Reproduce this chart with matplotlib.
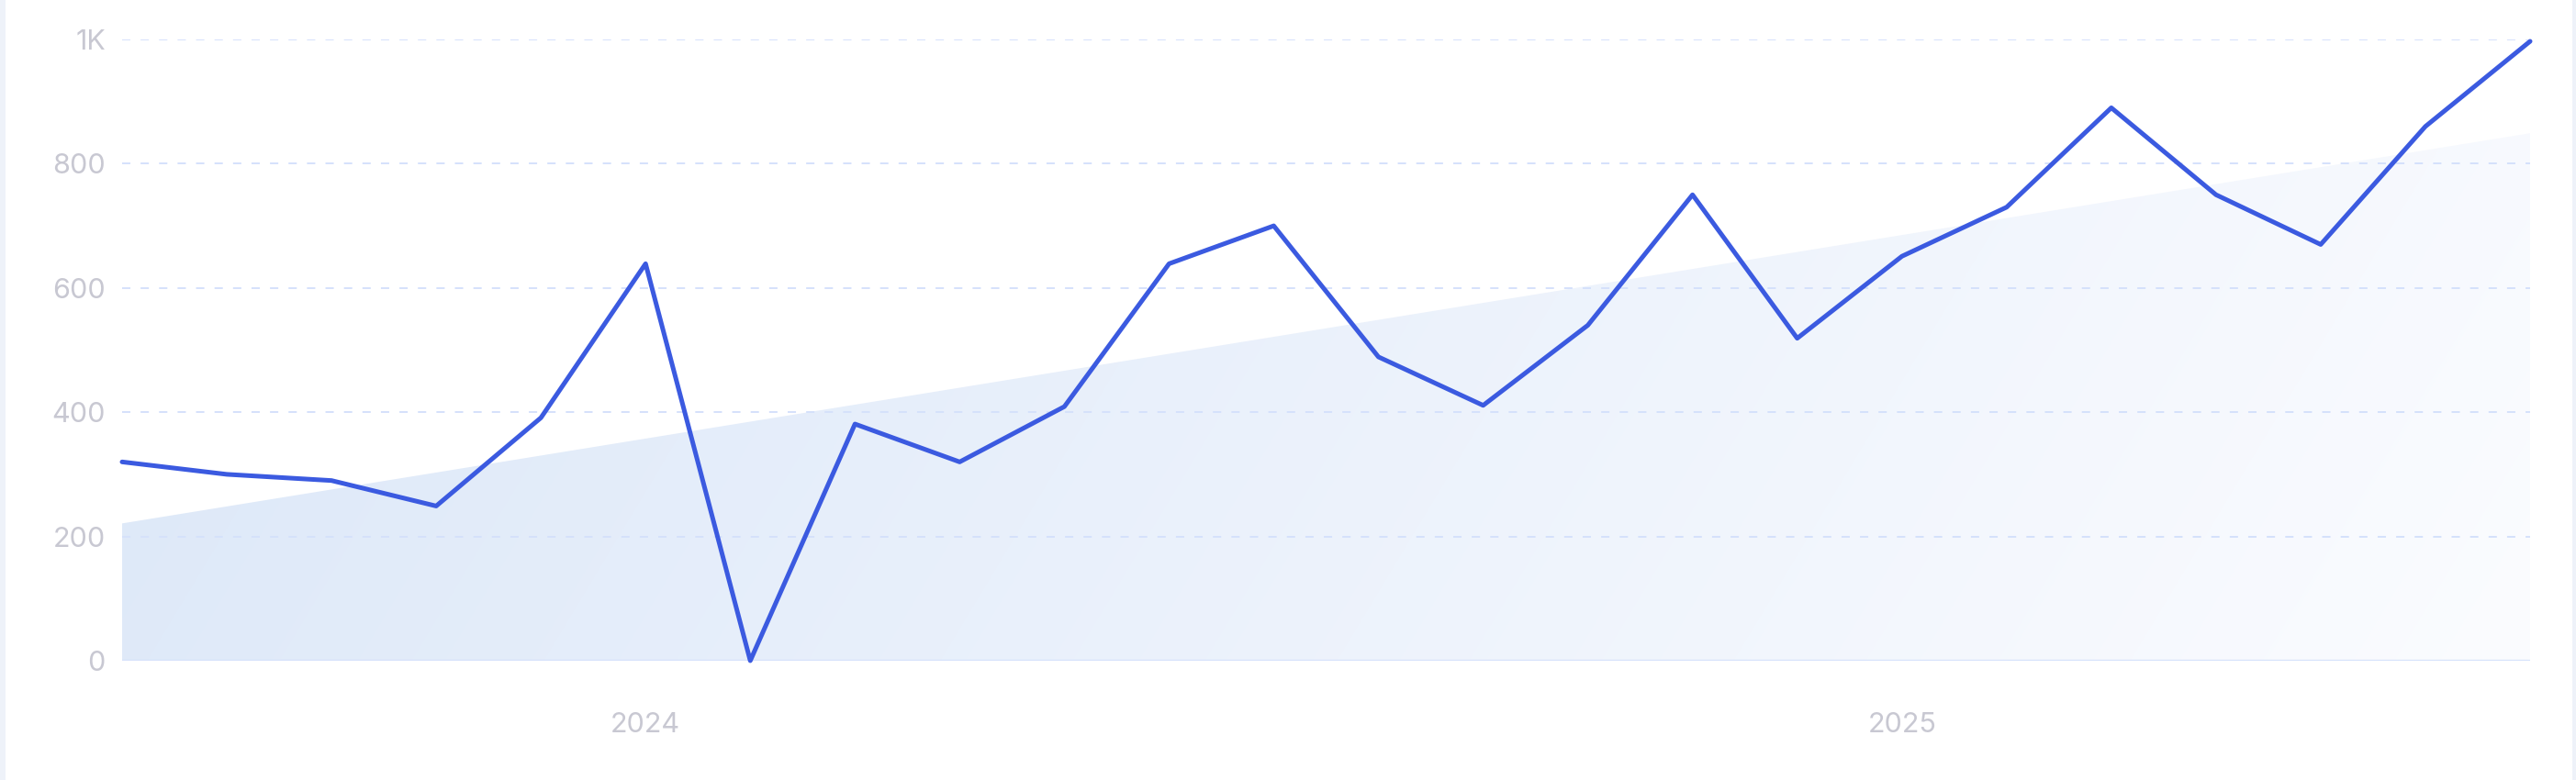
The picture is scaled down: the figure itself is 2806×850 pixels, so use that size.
import matplotlib
matplotlib.use("Agg")
import matplotlib.pyplot as plt
import numpy as np
from matplotlib.patches import Polygon, Rectangle

plt.rcParams["font.family"] = ["Inter", "DejaVu Sans"]
plt.rcParams["lines.scale_dashes"] = False

# monthly values, Aug 2023 .. Jul 2025
months = [
    "2023-08", "2023-09", "2023-10", "2023-11", "2023-12",
    "2024-01", "2024-02", "2024-03", "2024-04", "2024-05", "2024-06",
    "2024-07", "2024-08", "2024-09", "2024-10", "2024-11", "2024-12",
    "2025-01", "2025-02", "2025-03", "2025-04", "2025-05", "2025-06",
    "2025-07",
]
values = [320, 300, 290, 249, 391, 639, 0, 381, 320, 409, 639, 700,
          489, 411, 540, 750, 519, 651, 730, 890, 750, 670, 860, 997]

# trend area, value at first and last month
trend_ends = [221, 849]

y_ticks = [0, 200, 400, 600, 800, 1000]
y_tick_labels = ["0", "200", "400", "600", "800", "1K"]
year_months = ["2024-01", "2025-01"]
year_labels = ["2024", "2025"]

LINE_COLOR = "#3b5ae0"
GRID_COLOR = "#d5e1fb"
TEXT_COLOR = "#c8c8d2"

W, H = 2806, 850
fig = plt.figure(figsize=(W / 100, H / 100), dpi=100)
fig.patch.set_facecolor("white")

# light frame strips at the sides
fig.patches.append(Rectangle((0, 0), 6 / W, 1, transform=fig.transFigure,
                             facecolor="#eef2f9", edgecolor="none"))
fig.patches.append(Rectangle(((W - 4) / W, 0), 4 / W, 1, transform=fig.transFigure,
                             facecolor="#eef2f9", edgecolor="none"))

left, right, top, bottom = 133, 2756, 43, 720
ax = fig.add_axes([left / W, (H - bottom) / H, (right - left) / W, (bottom - top) / H])
ax.set_facecolor("none")

x = np.arange(len(months))
x_first, x_last = x[0], x[-1]
ax.set_xlim(x_first, x_last)
ax.set_ylim(0, 1000)

# gradient-filled trend area
ny, nx = 200, 600
gx = np.linspace(0, 1, nx)
gy = np.linspace(1, 0, ny)
GX, GY = np.meshgrid(gx, gy)
pw, ph = right - left, bottom - top
t = (GX * pw + (1 - GY) * ph * 0.6) / (pw + ph * 0.6)
c0 = np.array([219, 231, 248]) / 255
c1 = np.array([251, 252, 255]) / 255
img = c0[None, None, :] * (1 - t[..., None]) + c1[None, None, :] * t[..., None]
poly = Polygon([(x_first, 0), (x_first, trend_ends[0]), (x_last, trend_ends[1]), (x_last, 0)],
               closed=True, facecolor="none", edgecolor="none")
ax.add_patch(poly)
im = ax.imshow(img, extent=(x_first, x_last, 0, 1000), aspect="auto", zorder=1,
               interpolation="bilinear")
im.set_clip_path(poly)

# grid
for v in y_ticks[1:]:
    ax.axhline(v, color=GRID_COLOR, lw=1.4, linestyle=(0, (6.5, 8)), zorder=2)
ax.axhline(0, color=GRID_COLOR, lw=1.6, zorder=2)

ax.plot(x, values, color=LINE_COLOR, lw=3.6, solid_joinstyle="round",
        solid_capstyle="round", zorder=4, clip_on=False)

for s in ax.spines.values():
    s.set_visible(False)
ax.set_yticks(y_ticks)
ax.set_yticklabels(y_tick_labels)
ax.set_xticks([months.index(m) for m in year_months])
ax.set_xticklabels(year_labels)
ax.tick_params(axis="y", length=0, pad=13, labelsize=22, labelcolor=TEXT_COLOR)
ax.tick_params(axis="x", length=0, pad=40, labelsize=22, labelcolor=TEXT_COLOR)

fig.savefig("out.png", dpi=100, facecolor="white")
